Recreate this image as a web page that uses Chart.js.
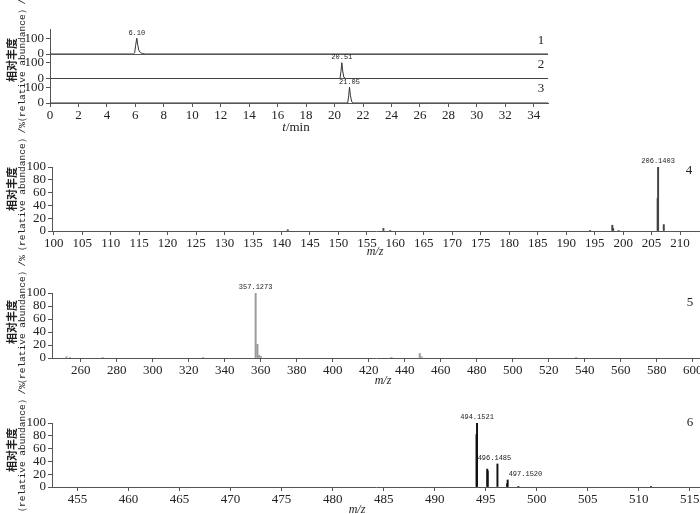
<!DOCTYPE html>
<html>
<head>
<meta charset="utf-8">
<script src="https://cdn.jsdelivr.net/npm/chart.js@4.4.1/dist/chart.umd.min.js"></script>
<style>
    body { margin: 0; background: #fff; }
    #page { position: relative; width: 700px; height: 514px; overflow: hidden; font-family: 'Liberation Serif', serif; color: #222; }
    #page canvas { position: absolute; left: 0; }
    .ytitle { position: absolute; left: 17px; transform: translate(-50%, -50%) rotate(-90deg); white-space: nowrap; text-align: center; line-height: 12px; }
    .ytitle .zh { display: block; font-family: 'Noto Sans CJK SC'; font-size: 11px; font-weight: bold; }
    .ytitle .en { display: block; font-family: 'Liberation Mono', monospace; font-size: 9.5px; }
    .note { position: absolute; transform: translate(-50%, -50%); font-size: 13px; white-space: nowrap; }
    .axisname { position: absolute; transform: translate(-50%, -50%); font-size: 12px; font-style: italic; white-space: nowrap; }
</style>
</head>
<body>
<div id="page">
    <canvas id="chrom" width="700" height="125" style="top:0px"></canvas>
    <canvas id="ms4" width="700" height="104" style="top:147px"></canvas>
    <canvas id="ms5" width="700" height="105" style="top:273px"></canvas>
    <canvas id="ms6" width="700" height="104" style="top:403px"></canvas>

    <div class="ytitle" style="top:60px"><span class="zh">相对丰度</span><span class="en">（relative abundance）/%</span></div>
    <div class="ytitle" style="top:189px"><span class="zh">相对丰度</span><span class="en">（relative abundance）/%</span></div>
    <div class="ytitle" style="top:322px"><span class="zh">相对丰度</span><span class="en">（relative abundance）/%</span></div>
    <div class="ytitle" style="top:450px"><span class="zh">相对丰度</span><span class="en">（relative abundance）/%</span></div>

    <div class="note" style="left:541px; top:40px">1</div>
    <div class="note" style="left:541px; top:64px">2</div>
    <div class="note" style="left:541px; top:88px">3</div>
    <div class="note" style="left:689px; top:170px">4</div>
    <div class="note" style="left:690px; top:302px">5</div>
    <div class="note" style="left:690px; top:422px">6</div>

    <div class="note" style="left:296px; top:127px"><i>t</i>/min</div>
    <div class="axisname" style="left:375px; top:251px">m/z</div>
    <div class="axisname" style="left:383px; top:380px">m/z</div>
    <div class="axisname" style="left:357px; top:509px">m/z</div>
</div>

<script>
// chromatograms (retention time in min, relative abundance in %)
const traceTime1 = [0, 5.85, 5.95, 6.02, 6.1, 6.16, 6.24, 6.35, 6.5, 6.7, 35];
const traceAbund1 = [0, 0, 8, 55, 100, 62, 24, 9, 3, 0, 0];
const traceTime2 = [0, 20.38, 20.45, 20.51, 20.57, 20.65, 20.78, 35];
const traceAbund2 = [0, 0, 45, 100, 48, 8, 0, 0];
const traceTime3 = [0, 20.92, 20.99, 21.05, 21.11, 21.2, 21.32, 35];
const traceAbund3 = [0, 0, 45, 100, 50, 8, 0, 0];
const retentionTimes = [6.1, 20.51, 21.05];
const retentionLabels = ['6.10', '20.51', '21.05'];
const timeTicks = [0, 2, 4, 6, 8, 10, 12, 14, 16, 18, 20, 22, 24, 26, 28, 30, 32, 34];
const chromAbundTicks = [0, 100];

// mass spectra
const spec4Mz = [141.1, 157.9, 159.1, 194.2, 198.1, 198.25, 199.2, 206.06, 206.14, 207.14];
const spec4Int = [2, 4, 1, 1, 9, 4, 1, 51, 100, 10];
const spec4PeakMz = [206.14];
const spec4PeakLabels = ['206.1403'];
const spec4Ticks = [100, 105, 110, 115, 120, 125, 130, 135, 140, 145, 150, 155, 160, 165, 170, 175, 180, 185, 190, 195, 200, 205, 210];

const spec5Mz = [252.1, 254.0, 272.1, 328.0, 357.13, 358.13, 359.1, 360.1, 432.6, 448.3, 449.3, 535.2];
const spec5Int = [2, 1, 1, 1, 100, 21, 4, 2, 1, 7, 2, 1];
const spec5PeakMz = [357.13];
const spec5PeakLabels = ['357.1273'];
const spec5Ticks = [260, 280, 300, 320, 340, 360, 380, 400, 420, 440, 460, 480, 500, 520, 540, 560, 580, 600];

const spec6Mz = [494.1, 494.15, 495.15, 495.2, 496.15, 497.1, 497.15, 498.2, 511.2];
const spec6Int = [82, 100, 28, 25, 36, 5, 11, 1, 1];
const spec6PeakMz = [494.15, 496.15, 497.15];
const spec6PeakInt = [100, 36, 11];
const spec6PeakLabels = ['494.1521', '496.1485', '497.1520'];
const spec6Ticks = [455, 460, 465, 470, 475, 480, 485, 490, 495, 500, 505, 510, 515];

const abundTicks = [0, 20, 40, 60, 80, 100];

const AXIS = '#555';
const TEXT = '#222';
const TICK_FONT = { family: 'Liberation Serif', size: 13 };

/**
 * Draws the small m/z or time labels above the peaks
 */
const peakLabelPlugin = {
    id: 'peakLabels',
    afterDatasetsDraw(chart, args, opts) {
        const items = opts.items || [];
        const ctx = chart.ctx;
        ctx.save();
        ctx.font = '7px "Liberation Mono"';
        ctx.fillStyle = TEXT;
        ctx.textBaseline = 'bottom';
        items.forEach(item => {
            const xs = chart.scales.x;
            const ys = chart.scales[item.axis || 'y'];
            const px = xs.getPixelForValue(item.x) + (item.dx || 0);
            const py = ys.getPixelForValue(item.y) - 2 + (item.dy || 0);
            ctx.textAlign = item.align || 'center';
            ctx.fillText(item.text, px, py);
        });
        ctx.restore();
    }
};

function fixedTicks(values) {
    return function(scale) {
        scale.ticks = values.map(v => ({ value: v }));
    };
}

function toPoints(xs, ys) {
    return xs.map((x, i) => ({ x: x, y: ys[i] }));
}

/**
 * Chromatogram: three stacked traces sharing one time axis
 */
function drawChromatogram() {
    const traces = [
        { id: 'y1', t: traceTime1, a: traceAbund1 },
        { id: 'y2', t: traceTime2, a: traceAbund2 },
        { id: 'y3', t: traceTime3, a: traceAbund3 }
    ];

    const scales = {
        x: {
            type: 'linear',
            min: 0,
            max: 35,
            afterBuildTicks: fixedTicks(timeTicks),
            grid: { drawOnChartArea: false, tickLength: 4, color: AXIS },
            border: { color: AXIS },
            ticks: { font: TICK_FONT, color: TEXT, padding: 1, maxRotation: 0, autoSkip: false },
            afterFit: s => { s.height = 22; s.paddingLeft = 0; s.paddingRight = 0; }
        }
    };

    // stacked axes are laid out bottom-up in creation order, so add the last trace first
    traces.slice().reverse().forEach(tr => {
        scales[tr.id] = {
            type: 'linear',
            position: 'left',
            stack: 'chrom',
            stackWeight: 1,
            min: 0,
            max: 155,
            afterBuildTicks: fixedTicks(chromAbundTicks),
            grid: {
                color: c => (c.tick && c.tick.value === 0) ? AXIS : 'rgba(0,0,0,0)',
                tickColor: AXIS,
                tickLength: 4
            },
            border: { color: AXIS },
            ticks: { font: TICK_FONT, color: TEXT, padding: 2, autoSkip: false },
            afterFit: s => { s.width = 50; }
        };
    });

    new Chart(document.getElementById('chrom'), {
        type: 'line',
        data: {
            datasets: traces.map(tr => ({
                data: toPoints(tr.t, tr.a),
                yAxisID: tr.id,
                borderColor: '#333',
                borderWidth: 1,
                pointRadius: 0,
                tension: 0
            }))
        },
        options: {
            responsive: false,
            animation: false,
            layout: { padding: { top: 29.5, right: 152, left: 0, bottom: 0 } },
            scales: scales,
            plugins: {
                legend: { display: false },
                tooltip: { enabled: false },
                peakLabels: {
                    items: retentionTimes.map((t, i) => ({ x: t, y: 100, axis: traces[i].id, text: retentionLabels[i] }))
                }
            }
        },
        plugins: [peakLabelPlugin]
    });
}

/**
 * Mass spectrum drawn as thin bars on a linear m/z axis
 */
function drawSpectrum(canvasId, mz, inten, ticks, xmin, xmax, color, labels) {
    new Chart(document.getElementById(canvasId), {
        type: 'bar',
        data: {
            datasets: [{
                data: toPoints(mz, inten),
                backgroundColor: color,
                borderWidth: 0,
                barThickness: 1.3
            }]
        },
        options: {
            responsive: false,
            animation: false,
            layout: { padding: { top: 20, right: 0, left: 0, bottom: 0 } },
            scales: {
                x: {
                    type: 'linear',
                    min: xmin,
                    max: xmax,
                    offset: false,
                    afterBuildTicks: fixedTicks(ticks),
                    grid: { offset: false, drawOnChartArea: false, tickLength: 4, color: AXIS },
                    border: { color: AXIS },
                    ticks: { font: TICK_FONT, color: TEXT, padding: 1, maxRotation: 0, autoSkip: false },
                    afterFit: s => { s.height = 20; s.paddingLeft = 0; s.paddingRight = 0; }
                },
                y: {
                    min: 0,
                    max: 100,
                    afterBuildTicks: fixedTicks(abundTicks),
                    grid: { drawOnChartArea: false, tickLength: 4, color: AXIS },
                    border: { color: AXIS },
                    ticks: { font: TICK_FONT, color: TEXT, padding: 2, autoSkip: false },
                    afterFit: s => { s.width = 52; }
                }
            },
            plugins: {
                legend: { display: false },
                tooltip: { enabled: false },
                peakLabels: { items: labels }
            }
        },
        plugins: [peakLabelPlugin]
    });
}

document.addEventListener('DOMContentLoaded', function() {
    drawChromatogram();

    drawSpectrum('ms4', spec4Mz, spec4Int, spec4Ticks, 99.7, 213.5, '#444',
        spec4PeakMz.map((m, i) => ({ x: m, y: 100, text: spec4PeakLabels[i] })));

    drawSpectrum('ms5', spec5Mz, spec5Int, spec5Ticks, 244, 604, '#999',
        spec5PeakMz.map((m, i) => ({ x: m, y: 100, text: spec5PeakLabels[i] })));

    const spec6Style = [{}, { dx: -3 }, { align: 'left', dx: 1 }];
    drawSpectrum('ms6', spec6Mz, spec6Int, spec6Ticks, 452.5, 516, '#111',
        spec6PeakMz.map((m, i) => Object.assign({ x: m, y: spec6PeakInt[i], text: spec6PeakLabels[i] }, spec6Style[i])));
});
</script>
</body>
</html>
